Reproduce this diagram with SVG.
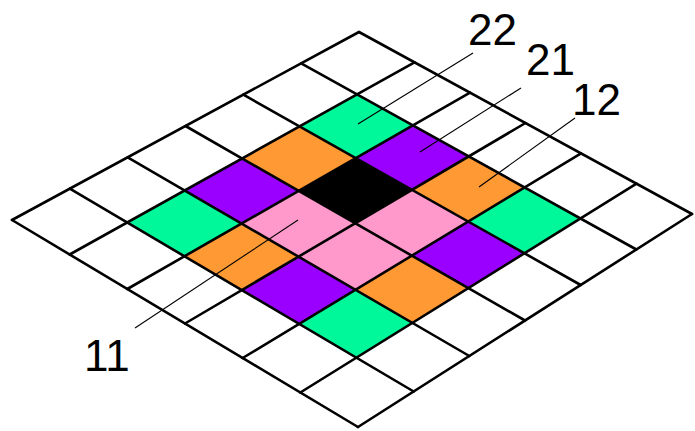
<svg xmlns="http://www.w3.org/2000/svg" width="695" height="431" viewBox="0 0 695 431">
<style>
.cell{stroke:none}
.teal{fill:#00f79a}
.purple{fill:#9900ff}
.orange{fill:#ff9933}
.pink{fill:#ff99cc}
.black{fill:#000000}
.grid{stroke:#000;stroke-width:2.6;stroke-linecap:round;fill:none}
.leader{stroke:#000;stroke-width:1.1;fill:none}
.lbl{font-family:"Liberation Sans",Arial,sans-serif;font-size:44px;fill:#000}
</style>
<rect width="695" height="431" fill="#fff"/>
<g id="cells">
<polygon id="c11" class="cell teal" points="357.03,94.36 412.89,125.39 355.78,158.11 299.55,126.39"/>
<polygon id="c21" class="cell purple" points="412.89,125.39 468.75,156.42 412,189.83 355.78,158.11"/>
<polygon id="c31" class="cell orange" points="468.75,156.42 524.61,187.45 468.22,221.55 412,189.83"/>
<polygon id="c41" class="cell teal" points="524.61,187.45 580.47,218.47 524.44,253.28 468.22,221.55"/>
<polygon id="c12" class="cell orange" points="299.55,126.39 355.78,158.11 298.67,190.83 242.08,158.42"/>
<polygon id="c22" class="cell black" points="355.78,158.11 412,189.83 355.25,223.25 298.67,190.83"/>
<polygon id="c32" class="cell pink" points="412,189.83 468.22,221.55 411.83,255.67 355.25,223.25"/>
<polygon id="c42" class="cell purple" points="468.22,221.55 524.44,253.28 468.42,288.08 411.83,255.67"/>
<polygon id="c13" class="cell purple" points="242.08,158.42 298.67,190.83 241.56,223.56 184.61,190.44"/>
<polygon id="c23" class="cell pink" points="298.67,190.83 355.25,223.25 298.5,256.67 241.56,223.56"/>
<polygon id="c33" class="cell pink" points="355.25,223.25 411.83,255.67 355.44,289.78 298.5,256.67"/>
<polygon id="c43" class="cell orange" points="411.83,255.67 468.42,288.08 412.39,322.89 355.44,289.78"/>
<polygon id="c14" class="cell teal" points="184.61,190.44 241.56,223.56 184.44,256.28 127.14,222.47"/>
<polygon id="c24" class="cell orange" points="241.56,223.56 298.5,256.67 241.75,290.08 184.44,256.28"/>
<polygon id="c34" class="cell purple" points="298.5,256.67 355.44,289.78 299.06,323.89 241.75,290.08"/>
<polygon id="c44" class="cell teal" points="355.44,289.78 412.39,322.89 356.36,357.69 299.06,323.89"/>
</g>
<g id="grid" class="grid">
<line x1="359" y1="32" x2="692" y2="214"/>
<line x1="301.17" y1="63.33" x2="636.33" y2="249.5"/>
<line x1="243.33" y1="94.67" x2="580.67" y2="285"/>
<line x1="185.5" y1="126" x2="525" y2="320.5"/>
<line x1="127.67" y1="157.33" x2="469.33" y2="356"/>
<line x1="69.83" y1="188.67" x2="413.67" y2="391.5"/>
<line x1="12" y1="220" x2="358" y2="427"/>
<line x1="359" y1="32" x2="12" y2="220"/>
<line x1="414.5" y1="62.33" x2="69.67" y2="254.5"/>
<line x1="470" y1="92.67" x2="127.33" y2="289"/>
<line x1="525.5" y1="123" x2="185" y2="323.5"/>
<line x1="581" y1="153.33" x2="242.67" y2="358"/>
<line x1="636.5" y1="183.67" x2="300.33" y2="392.5"/>
<line x1="692" y1="214" x2="358" y2="427"/>
</g>
<g id="connectors" class="leader">
<line x1="473" y1="53" x2="358" y2="124"/>
<line x1="521" y1="88" x2="420" y2="152"/>
<line x1="575" y1="118" x2="479" y2="187"/>
<line x1="298" y1="220" x2="135" y2="328"/>
</g>
<g id="label22"><text class="lbl" x="468" y="45">22</text></g>
<g id="label21"><text class="lbl" x="526" y="75">21</text></g>
<g id="label12"><text class="lbl" x="572" y="115">12</text></g>
<g id="label11"><text class="lbl" x="84" y="371">11</text></g>
</svg>
